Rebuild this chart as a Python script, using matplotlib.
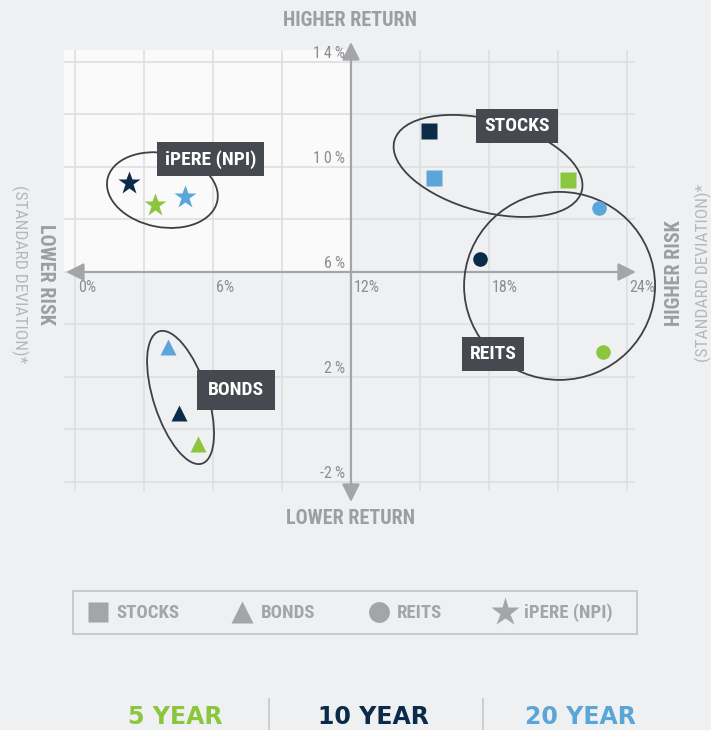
import matplotlib
matplotlib.use('Agg')
import matplotlib.pyplot as plt
import numpy as np
from matplotlib.patches import Ellipse
from matplotlib.lines import Line2D
from matplotlib.transforms import ScaledTranslation

# condensed faces first, whichever is installed gets used
plt.rcParams['font.family'] = ['Roboto Condensed', 'Liberation Sans Narrow',
                               'Roboto', 'DejaVu Sans']

# data: risk (std dev %) and return (%) per period
periods = ['5 YEAR', '10 YEAR', '20 YEAR']
period_colors = ['#8cc63f', '#0c2a4a', '#5aa6d8']

stocks_risk = [21.43, 15.41, 15.61]
stocks_ret = [9.50, 11.38, 9.58]
bonds_risk = [5.35, 4.52, 4.03]
bonds_ret = [-0.55, 0.64, 3.13]
reits_risk = [22.97, 17.60, 22.78]
reits_ret = [2.95, 6.48, 8.44]
ipere_risk = [3.49, 2.35, 4.80]
ipere_ret = [8.55, 9.40, 8.85]

x_ticks = [0, 6, 12, 18, 24]
y_ticks = [14, 10, 6, 2, -2]
asset_names = ['STOCKS', 'BONDS', 'REITS', 'iPERE (NPI)']

bg = '#eff0f2'
grid_c = '#dcdddf'
axis_c = '#a3a5a8'
label_c = '#9c9ea1'
box_c = '#464950'
ring_c = '#3d4046'

fig = plt.figure(figsize=(7.11, 7.30), dpi=100, facecolor=bg)
W, H = 711, 730
ax = fig.add_axes([64 / W, 1 - 491 / H, 571 / W, 441 / H])
ax.set_facecolor(bg)
ax.set_xlim(-0.478, 24.35)
ax.set_ylim(-2.343, 14.457)
for s in ax.spines.values():
    s.set_visible(False)
ax.set_xticks([])
ax.set_yticks([])

# lighter quadrant (low risk / high return)
ax.axhspan(6, 14.457, xmin=0, xmax=(12 + 0.478) / (24.35 + 0.478),
           color='#fafafa', zorder=0, lw=0)

for gx in np.arange(0, 25, 3):
    ax.axvline(gx, color=grid_c, lw=1.1, zorder=1)
for gy in np.arange(-2, 15, 2):
    ax.axhline(gy, color=grid_c, lw=1.1, zorder=1)

arrow = dict(arrowstyle='<|-|>,head_length=0.6,head_width=0.3', color=axis_c,
             lw=1.6, mutation_scale=18, shrinkA=0, shrinkB=0)
ax.annotate('', xy=(24.39, 6), xytext=(-0.39, 6), arrowprops=arrow,
            annotation_clip=False, zorder=2)
ax.annotate('', xy=(12, 14.76), xytext=(12, -2.76), arrowprops=arrow,
            annotation_clip=False, zorder=2)

sp = '\u2009'
for t in x_ticks:
    ax.annotate(f'{t}%', (t, 6), xytext=(2, -6), textcoords='offset points',
                ha='left', va='top', fontsize=11.5, color='#8b8d90', zorder=3)
for t in y_ticks:
    digits = str(abs(t))
    lab = ('-' if t < 0 else '') + sp.join(list(digits)) + sp + '%'
    ax.annotate(lab, (12, t), xytext=(-4, 0.8), textcoords='offset points',
                ha='right', va='bottom', fontsize=11.5, color='#8b8d90', zorder=3)

# points
for i in range(3):
    c = period_colors[i]
    ax.plot(stocks_risk[i], stocks_ret[i], 's', ms=11, color=c, mec='none', zorder=5)
    ax.plot(bonds_risk[i], bonds_ret[i], '^', ms=11, color=c, mec='none', zorder=5)
    ax.plot(reits_risk[i], reits_ret[i], 'o', ms=10.5, color=c, mec='none', zorder=5)
    ax.plot(ipere_risk[i], ipere_ret[i], '*', ms=17, color=c, mec='none', zorder=5)

# group rings: centre (data), width/height in pixels, angle
rings = [
    ((17.96, 10.04), 194, 92, -15),
    ((4.59, 1.22), 54, 139, 18),
    ((21.07, 5.47), 191, 188, 0),
    ((3.80, 9.12), 112, 74, -11),
]
for (cx, cy), w, h, a in rings:
    tr = fig.dpi_scale_trans + ScaledTranslation(cx, cy, ax.transData)
    ax.add_patch(Ellipse((0, 0), w / 100, h / 100, angle=a, transform=tr,
                         fill=False, ec=ring_c, lw=1.3, zorder=4, clip_on=False))

# group labels
tags = [(19.22, 11.56, 'STOCKS', 0.4), (7.0, 1.50, 'BONDS', 0.55),
        (18.17, 2.88, 'REITS', 0.4), (5.91, 10.30, 'iPERE (NPI)', 0.4)]
for tx, ty, s, pad in tags:
    ax.text(tx, ty, s, ha='center', va='center', color='white', fontsize=14,
            fontweight='bold', zorder=6,
            bbox=dict(boxstyle=f'square,pad={pad}', fc=box_c, ec='none'))

# axis captions
fig.text(350 / W, 1 - 21 / H, 'HIGHER RETURN', ha='center', va='center',
         fontsize=14.5, fontweight='bold', color=label_c)
fig.text(350 / W, 1 - 518 / H, 'LOWER RETURN', ha='center', va='center',
         fontsize=14.5, fontweight='bold', color=label_c)
fig.text(45 / W, 1 - 274 / H, 'LOWER RISK', ha='center', va='center', rotation=270,
         fontsize=14.5, fontweight='bold', color=label_c)
fig.text(20 / W, 1 - 274 / H, '(STANDARD DEVIATION)*', ha='center', va='center',
         rotation=270, fontsize=12.5, color='#b5b7ba')
fig.text(675 / W, 1 - 273 / H, 'HIGHER RISK', ha='center', va='center', rotation=90,
         fontsize=14.5, fontweight='bold', color=label_c)
fig.text(703 / W, 1 - 273 / H, '(STANDARD DEVIATION)*', ha='center', va='center',
         rotation=90, fontsize=12.5, color='#b5b7ba')

# legend
handles = [Line2D([], [], ls='none', marker=m, ms=ms, color=axis_c, mec='none')
           for m, ms in zip(['s', '^', 'o', '*'], [15, 16, 15, 21])]
leg = fig.legend(handles, asset_names, loc='center left', ncol=4,
                 bbox_to_anchor=(79 / W, 1 - 613 / H), frameon=False,
                 fontsize=13.5, handletextpad=0.4, columnspacing=2.75,
                 handlelength=1.2, borderaxespad=0)
for t in leg.get_texts():
    t.set_color(axis_c)
    t.set_fontweight('bold')
fig.add_artist(plt.Rectangle((73 / W, 1 - 634 / H), 564 / W, 43 / H,
                             transform=fig.transFigure, fill=False,
                             ec='#c5c7ca', lw=1.3))

# period key
for xc, s, c in zip([175, 373, 580], periods, period_colors):
    fig.text(xc / W, 1 - 729 / H, s, ha='center', va='bottom', fontsize=17,
             fontweight='bold', color=c, family='DejaVu Sans')
for xs in [269, 483]:
    fig.add_artist(Line2D([xs / W, xs / W], [1 - 699 / H, 0], transform=fig.transFigure,
                          color='#c5c7ca', lw=1.2))

fig.savefig('out.png', dpi=100, facecolor=bg)
